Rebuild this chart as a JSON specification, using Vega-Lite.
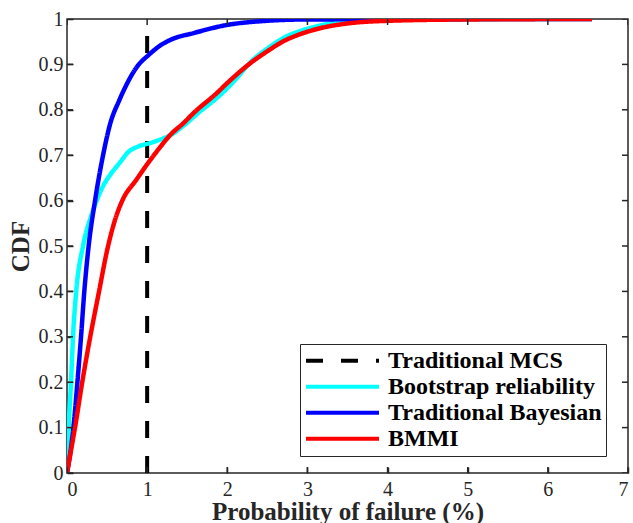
{
  "$schema": "https://vega.github.io/schema/vega-lite/v6.json",
  "width": 561,
  "height": 454,
  "autosize": "none",
  "padding": {"left": 67, "top": 19, "right": 5, "bottom": 50},
  "background": "white",
  "config": {
    "view": {"stroke": "#262626", "strokeWidth": 1.5},
    "font": "Liberation Serif",
    "axis": {"grid": false, "domain": false, "ticks": true, "tickColor": "#262626", "tickWidth": 1.5, "tickSize": 6, "offset": -6, "zindex": 2, "labelColor": "#262626", "labelFont": "Liberation Serif", "labelFontSize": 20, "titleFont": "Liberation Serif", "titleFontSize": 25, "titleFontWeight": "bold", "titleColor": "#262626"},
    "legend": {"labelFont": "Liberation Serif", "labelFontSize": 24, "labelFontWeight": "bold", "labelColor": "#000000", "labelLimit": 400}
  },
  "datasets": {
    "xticks": [{"v": 0}, {"v": 1}, {"v": 2}, {"v": 3}, {"v": 4}, {"v": 5}, {"v": 6}, {"v": 7}],
    "yticks": [{"v": 0}, {"v": 0.1}, {"v": 0.2}, {"v": 0.3}, {"v": 0.4}, {"v": 0.5}, {"v": 0.6}, {"v": 0.7}, {"v": 0.8}, {"v": 0.9}, {"v": 1}],
    "mcs": [
      {"series": "Traditional MCS", "x": 1, "y": 0},
      {"series": "Traditional MCS", "x": 1, "y": 1}
    ],
    "curves": [
      {"series": "Bootstrap reliability", "x": 0, "y": 0},
      {"series": "Bootstrap reliability", "x": 0.02, "y": 0.1},
      {"series": "Bootstrap reliability", "x": 0.05, "y": 0.2},
      {"series": "Bootstrap reliability", "x": 0.075, "y": 0.3},
      {"series": "Bootstrap reliability", "x": 0.115, "y": 0.4},
      {"series": "Bootstrap reliability", "x": 0.2, "y": 0.5},
      {"series": "Bootstrap reliability", "x": 0.3, "y": 0.565},
      {"series": "Bootstrap reliability", "x": 0.37, "y": 0.6},
      {"series": "Bootstrap reliability", "x": 0.45, "y": 0.632},
      {"series": "Bootstrap reliability", "x": 0.54, "y": 0.657},
      {"series": "Bootstrap reliability", "x": 0.665, "y": 0.685},
      {"series": "Bootstrap reliability", "x": 0.76, "y": 0.706},
      {"series": "Bootstrap reliability", "x": 0.9, "y": 0.72},
      {"series": "Bootstrap reliability", "x": 1.04, "y": 0.727},
      {"series": "Bootstrap reliability", "x": 1.2, "y": 0.737},
      {"series": "Bootstrap reliability", "x": 1.3, "y": 0.745},
      {"series": "Bootstrap reliability", "x": 1.455, "y": 0.765},
      {"series": "Bootstrap reliability", "x": 1.65, "y": 0.795},
      {"series": "Bootstrap reliability", "x": 1.87, "y": 0.826},
      {"series": "Bootstrap reliability", "x": 2.1, "y": 0.866},
      {"series": "Bootstrap reliability", "x": 2.29, "y": 0.905},
      {"series": "Bootstrap reliability", "x": 2.5, "y": 0.935},
      {"series": "Bootstrap reliability", "x": 2.7, "y": 0.958},
      {"series": "Bootstrap reliability", "x": 2.9, "y": 0.973},
      {"series": "Bootstrap reliability", "x": 3.12, "y": 0.984},
      {"series": "Bootstrap reliability", "x": 3.5, "y": 0.995},
      {"series": "Bootstrap reliability", "x": 4, "y": 0.999},
      {"series": "Bootstrap reliability", "x": 6.55, "y": 1},
      {"series": "Traditional Bayesian", "x": 0, "y": 0},
      {"series": "Traditional Bayesian", "x": 0.08, "y": 0.1},
      {"series": "Traditional Bayesian", "x": 0.13, "y": 0.2},
      {"series": "Traditional Bayesian", "x": 0.175, "y": 0.3},
      {"series": "Traditional Bayesian", "x": 0.216, "y": 0.4},
      {"series": "Traditional Bayesian", "x": 0.27, "y": 0.5},
      {"series": "Traditional Bayesian", "x": 0.35, "y": 0.6},
      {"series": "Traditional Bayesian", "x": 0.45, "y": 0.7},
      {"series": "Traditional Bayesian", "x": 0.54, "y": 0.77},
      {"series": "Traditional Bayesian", "x": 0.65, "y": 0.82},
      {"series": "Traditional Bayesian", "x": 0.75, "y": 0.858},
      {"series": "Traditional Bayesian", "x": 0.87, "y": 0.894},
      {"series": "Traditional Bayesian", "x": 1.02, "y": 0.921},
      {"series": "Traditional Bayesian", "x": 1.15, "y": 0.94},
      {"series": "Traditional Bayesian", "x": 1.29, "y": 0.954},
      {"series": "Traditional Bayesian", "x": 1.58, "y": 0.969},
      {"series": "Traditional Bayesian", "x": 2.0, "y": 0.987},
      {"series": "Traditional Bayesian", "x": 2.41, "y": 0.995},
      {"series": "Traditional Bayesian", "x": 3, "y": 0.999},
      {"series": "Traditional Bayesian", "x": 6.55, "y": 1},
      {"series": "BMMI", "x": 0, "y": 0},
      {"series": "BMMI", "x": 0.05, "y": 0.05},
      {"series": "BMMI", "x": 0.1, "y": 0.1},
      {"series": "BMMI", "x": 0.19, "y": 0.2},
      {"series": "BMMI", "x": 0.29, "y": 0.3},
      {"series": "BMMI", "x": 0.4, "y": 0.4},
      {"series": "BMMI", "x": 0.5, "y": 0.49},
      {"series": "BMMI", "x": 0.6, "y": 0.558},
      {"series": "BMMI", "x": 0.69, "y": 0.6},
      {"series": "BMMI", "x": 0.87, "y": 0.647},
      {"series": "BMMI", "x": 1.0, "y": 0.68},
      {"series": "BMMI", "x": 1.15, "y": 0.715},
      {"series": "BMMI", "x": 1.29, "y": 0.745},
      {"series": "BMMI", "x": 1.455, "y": 0.771},
      {"series": "BMMI", "x": 1.58, "y": 0.793},
      {"series": "BMMI", "x": 1.87, "y": 0.837},
      {"series": "BMMI", "x": 2.0, "y": 0.859},
      {"series": "BMMI", "x": 2.29, "y": 0.903},
      {"series": "BMMI", "x": 2.5, "y": 0.929},
      {"series": "BMMI", "x": 2.7, "y": 0.951},
      {"series": "BMMI", "x": 2.9, "y": 0.966},
      {"series": "BMMI", "x": 3.12, "y": 0.978},
      {"series": "BMMI", "x": 3.54, "y": 0.991},
      {"series": "BMMI", "x": 4, "y": 0.996},
      {"series": "BMMI", "x": 5, "y": 0.999},
      {"series": "BMMI", "x": 6.55, "y": 1}
    ]
  },
  "layer": [
    {
      "data": {"name": "mcs"},
      "mark": {"type": "line", "strokeWidth": 4, "clip": true},
      "encoding": {
        "x": {"field": "x", "type": "quantitative", "scale": {"domain": [0, 7], "nice": false}, "axis": {"orient": "bottom", "values": [0,1,2,3,4,5,6,7], "title": "Probability of failure (%)", "labelPadding": 6, "titlePadding": 0}},
        "y": {"field": "y", "type": "quantitative", "scale": {"domain": [0, 1], "nice": false}, "axis": {"orient": "left", "values": [0,0.1,0.2,0.3,0.4,0.5,0.6,0.7,0.8,0.9,1], "format": "~g", "title": "CDF", "labelPadding": 4, "titlePadding": 5}},
        "order": {"field": "y", "type": "quantitative"},
        "color": {"field": "series", "type": "nominal", "sort": null,
          "scale": {"domain": ["Traditional MCS", "Bootstrap reliability", "Traditional Bayesian", "BMMI"], "range": ["#000000", "#00ffff", "#0000ff", "#ff0000"]},
          "legend": {"title": null, "orient": "none", "legendX": 233, "legendY": 325, "symbolType": "stroke", "symbolSize": 5329, "symbolStrokeWidth": 4, "clipHeight": 25.5, "rowPadding": 0, "labelOffset": 7, "padding": 4, "strokeColor": "#262626", "fillColor": "#ffffff"}},
        "strokeDash": {"field": "series", "type": "nominal", "sort": null,
          "scale": {"domain": ["Traditional MCS", "Bootstrap reliability", "Traditional Bayesian", "BMMI"], "range": [[17, 18], [1, 0], [1, 0], [1, 0]]},
          "legend": {"title": null, "orient": "none", "legendX": 233, "legendY": 325, "symbolType": "stroke", "symbolSize": 5329, "symbolStrokeWidth": 4, "clipHeight": 25.5, "rowPadding": 0, "labelOffset": 7, "padding": 4, "strokeColor": "#262626", "fillColor": "#ffffff"}}
      }
    },
    {
      "data": {"name": "curves"},
      "mark": {"type": "line", "strokeWidth": 4.5, "clip": true, "interpolate": "monotone"},
      "encoding": {
        "x": {"field": "x", "type": "quantitative", "axis": null},
        "y": {"field": "y", "type": "quantitative", "axis": null},
        "color": {"field": "series", "type": "nominal", "sort": null},
        "strokeDash": {"field": "series", "type": "nominal", "sort": null}
      }
    },
    {
      "data": {"name": "xticks"},
      "mark": {"type": "tick", "orient": "vertical", "size": 12, "thickness": 1.5, "color": "#262626", "opacity": 1, "clip": true},
      "encoding": {
        "x": {"field": "v", "type": "quantitative", "axis": null},
        "y": {"datum": 0, "type": "quantitative", "axis": null}
      }
    },
    {
      "data": {"name": "xticks"},
      "mark": {"type": "tick", "orient": "vertical", "size": 12, "thickness": 1.5, "color": "#262626", "opacity": 1, "clip": true},
      "encoding": {
        "x": {"field": "v", "type": "quantitative", "axis": null},
        "y": {"datum": 1, "type": "quantitative", "axis": null}
      }
    },
    {
      "data": {"name": "yticks"},
      "mark": {"type": "tick", "orient": "horizontal", "size": 12, "thickness": 1.5, "color": "#262626", "opacity": 1, "clip": true},
      "encoding": {
        "y": {"field": "v", "type": "quantitative", "axis": null},
        "x": {"datum": 0, "type": "quantitative", "axis": null}
      }
    },
    {
      "data": {"name": "yticks"},
      "mark": {"type": "tick", "orient": "horizontal", "size": 12, "thickness": 1.5, "color": "#262626", "opacity": 1, "clip": true},
      "encoding": {
        "y": {"field": "v", "type": "quantitative", "axis": null},
        "x": {"datum": 7, "type": "quantitative", "axis": null}
      }
    }
  ],
  "resolve": {"axis": {"x": "independent", "y": "independent"}}
}
